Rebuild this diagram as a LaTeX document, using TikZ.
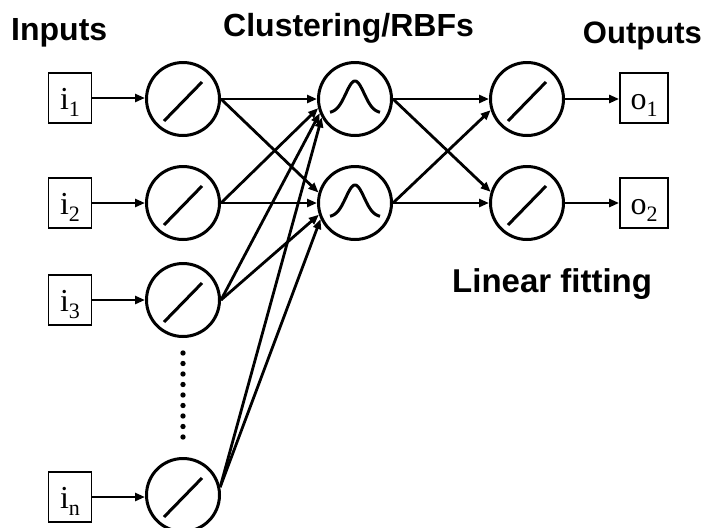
\documentclass[tikz,border=0pt]{standalone}
\usepackage{fontspec}
\setmainfont{Liberation Serif}
\newfontfamily\hv{Liberation Sans}
\usetikzlibrary{arrows.meta}
\newcommand{\lbl}[2]{#1\raisebox{-7pt}{\fontsize{22}{22}\selectfont #2}}
\begin{document}
\begin{tikzpicture}[x=1pt,y=-1pt,
  neuron/.style={circle,draw,line width=3pt,minimum size=73pt,inner sep=0pt},
  iobox/.style={rectangle,draw,line width=1.8pt,minimum height=50pt,inner sep=0pt,
     text height=22pt,text depth=0pt,font=\fontsize{32}{32}\selectfont},
  arr/.style={line width=2.8pt,-{Triangle[length=10pt,width=8pt]}},
  title/.style={font=\hv\bfseries\fontsize{32}{32}\selectfont,anchor=base west,inner sep=0pt},
  glyph/.style={line width=3pt}]
\useasboundingbox (0,0) rectangle (705,528);
% input boxes
\node[iobox,minimum width=43pt] (i1) at (70,98) {\lbl{i}{1}};
\node[iobox,minimum width=43pt] (i2) at (70,203) {\lbl{i}{2}};
\node[iobox,minimum width=43pt] (i3) at (70,300) {\lbl{i}{3}};
\node[iobox,minimum width=43pt] (in) at (70,497) {\lbl{i}{n}};
% first layer
\node[neuron] (c1) at (183,99) {};
\node[neuron] (c2) at (183,203) {};
\node[neuron] (c3) at (183,300) {};
\node[neuron] (cn) at (183,495) {};
% RBF layer
\node[neuron] (r1) at (355,99) {};
\node[neuron] (r2) at (355,203) {};
% output layer
\node[neuron] (o1) at (527,99) {};
\node[neuron] (o2) at (527,203) {};
\node[iobox,minimum width=48pt] (b1) at (644,98) {\lbl{o}{1}};
\node[iobox,minimum width=48pt] (b2) at (644,203) {\lbl{o}{2}};
% glyphs
\foreach \n in {c1,c2,c3,cn,o1,o2}{
  \draw[glyph] ([shift={(-19,22)}]\n.center) -- ([shift={(19,-17)}]\n.center);
}
\foreach \n in {r1,r2}{
  \draw[glyph,shift={(\n.center)}] plot[domain=-25:25,samples=60,smooth] (\x,{14-32*exp(-(\x/13)^2)});
}
% dots
\foreach \k in {0,...,8}{
  \fill (183,353+10.5*\k) circle (2.7pt);
}
% connectors
\draw[arr] (i1) -- (i1 -| c1.west);
\draw[arr] (i2) -- (i2 -| c2.west);
\draw[arr] (i3) -- (i3 -| c3.west);
\draw[arr] (in) -- (in -| cn.west);
\draw[arr] (c1.east) -- (r1.west);
\draw[arr] (c1.east) -- (r2.164);
\draw[arr] (c2.east) -- (r1.194);
\draw[arr] (c2.east) -- (r2.west);
\draw[arr] (c3.east) -- (r1.202);
\draw[arr] (c3.east) -- (r2.198);
\draw[arr] (cn.12) -- (r1.209);
\draw[arr] (cn.12) -- (r2.205);
\draw[arr] (r1.east) -- (o1.west);
\draw[arr] (r1.east) -- (o2.163);
\draw[arr] (r2.east) -- (o1.197);
\draw[arr] (r2.east) -- (o2.west);
\draw[arr] (o1.east) -- (b1.west |- o1.east);
\draw[arr] (o2.east) -- (b2.west |- o2.east);
% titles
\node[title] (t1) at (11,40) {Inputs};
\node[title] (t2) at (223,36) {Clustering/RBFs};
\node[title,anchor=base east,font=\hv\bfseries\fontsize{31}{31}\selectfont] (t3) at (702,43) {Outputs};
\node[title,font=\hv\bfseries\fontsize{33}{33}\selectfont] (t4) at (452,292) {Linear fitting};
\end{tikzpicture}
\end{document}
